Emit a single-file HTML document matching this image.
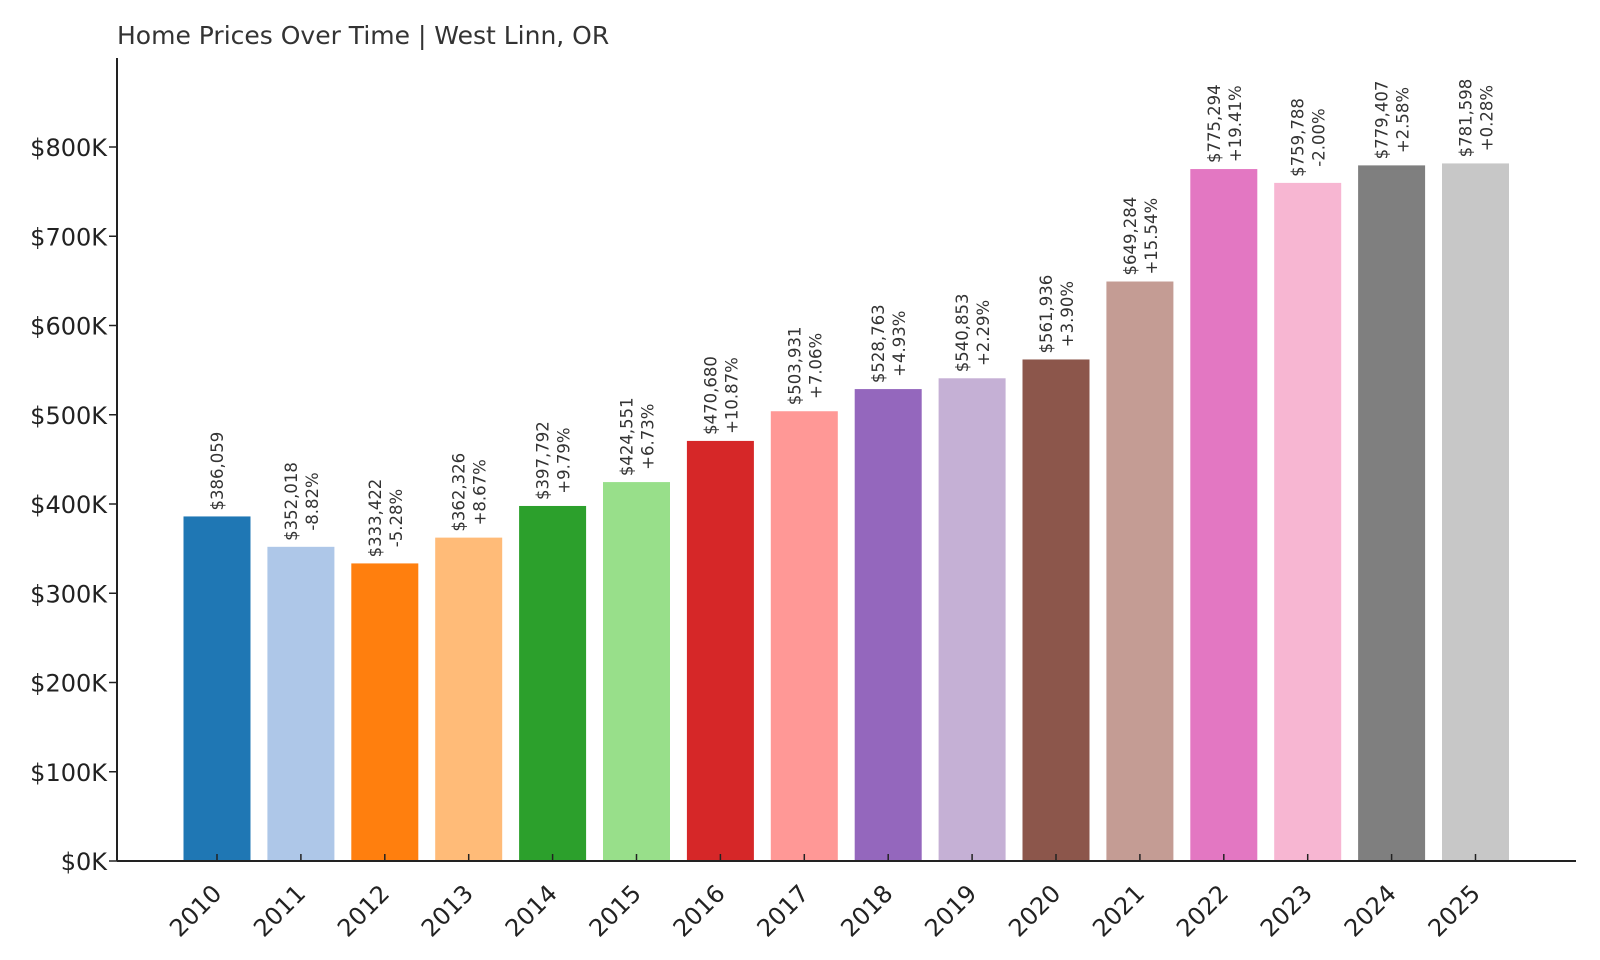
<!DOCTYPE html>
<html><head><meta charset="utf-8"><style>
body{margin:0;background:#fff;}
svg{display:block;font-family:"DejaVu Sans","Liberation Sans",sans-serif;}
</style></head><body>
<svg id="chart" width="1600" height="960">
<text x="117" y="44" font-size="25" fill="#333">Home Prices Over Time | West Linn, OR</text>
<g id="g"></g>
</svg>
<script>
const years=["2010","2011","2012","2013","2014","2015","2016","2017","2018","2019","2020","2021","2022","2023","2024","2025"];
const values=[386059,352018,333422,362326,397792,424551,470680,503931,528763,540853,561936,649284,775294,759788,779407,781598];
const changes=["","-8.82%","-5.28%","+8.67%","+9.79%","+6.73%","+10.87%","+7.06%","+4.93%","+2.29%","+3.90%","+15.54%","+19.41%","-2.00%","+2.58%","+0.28%"];
const yTicks=[0,100000,200000,300000,400000,500000,600000,700000,800000];
const colors=["#1f77b4","#aec7e8","#ff7f0e","#ffbb78","#2ca02c","#98df8a","#d62728","#ff9896","#9467bd","#c5b0d5","#8c564b","#c49c94","#e377c2","#f7b6d2","#7f7f7f","#c7c7c7"];
const NS="http://www.w3.org/2000/svg";
const g=document.getElementById('g');
const x0=117,x1=1576,yBase=861,pxPer=89.25/100000;
const y=v=>yBase-v*pxPer;
const xc=i=>217+i*83.9;
const bw=67;
function mk(t,a){const e=document.createElementNS(NS,t);for(const k in a)e.setAttribute(k,a[k]);g.appendChild(e);return e;}
years.forEach((yr,i)=>{
  const r=mk('rect',{x:xc(i)-bw/2,y:y(values[i]),width:bw,height:yBase-y(values[i]),fill:colors[i]});
  
  
  const tk=mk('line',{x1:xc(i),x2:xc(i),y1:yBase,y2:yBase-7,stroke:'#222','stroke-width':1.5});
  
  
  const lx=xc(i)+6,ly=yBase+34;
  const t=mk('text',{x:lx,y:ly,'font-size':24,fill:'#222','text-anchor':'end',transform:`rotate(-45 ${lx} ${ly})`});
  t.textContent=yr;
  
  
  const top=y(values[i])-6;
  const lbl='$'+values[i].toLocaleString('en-US');
  const two=changes[i]!=="";
  const cx=two?xc(i)-4:xc(i)+6;
  const t1=mk('text',{x:0,y:0,'font-size':16.5,fill:'#333',transform:`translate(${cx} ${top}) rotate(-90)`});
  t1.textContent=lbl;
  
  
  if(two){
    const L=t1.getComputedTextLength();
    const t2=mk('text',{x:L/2,y:0,'font-size':16.5,fill:'#333','text-anchor':'middle',transform:`translate(${cx+21} ${top}) rotate(-90)`});
    t2.textContent=changes[i];
    
    
  }
});
yTicks.forEach(v=>{
  const l=mk('line',{x1:x0-8,x2:x0,y1:y(v),y2:y(v),stroke:'#222','stroke-width':1.5});
  
  
  const t=mk('text',{x:x0-10,y:y(v)+9,'font-size':24,fill:'#222','text-anchor':'end'});
  t.textContent='$'+(v/1000)+'K';
  
  
});
const ya=mk('line',{x1:x0,x2:x0,y1:58,y2:yBase,stroke:'#222','stroke-width':2});


const xa=mk('line',{x1:x0,x2:x1,y1:yBase,y2:yBase,stroke:'#222','stroke-width':2});


</script>
</body></html>
